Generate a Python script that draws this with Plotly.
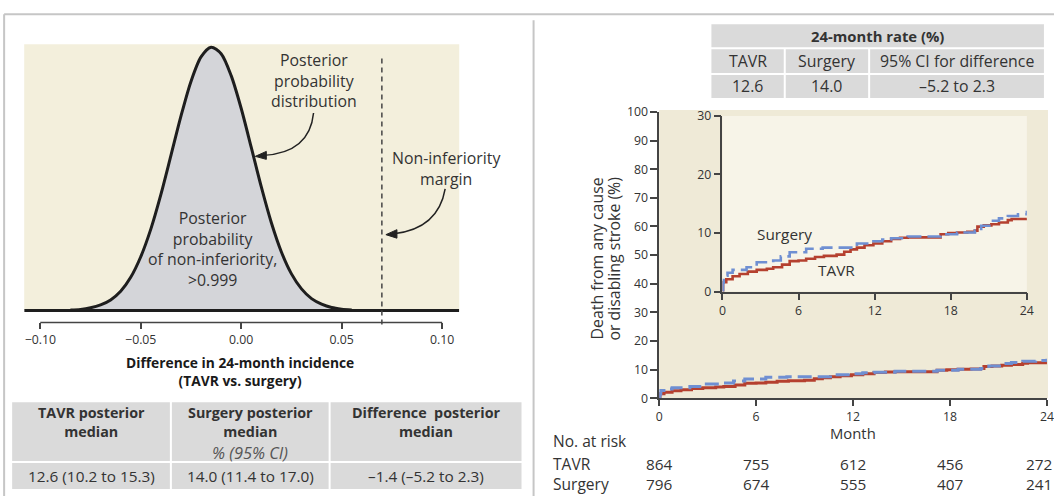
import plotly.graph_objects as go

# ---------------- data ----------------
# posterior distribution of the difference (relative height)
diff_x = [-0.085, -0.080, -0.075, -0.070, -0.065, -0.060, -0.055, -0.050, -0.045, -0.040,
          -0.035, -0.030, -0.025, -0.020, -0.015, -0.010, -0.005, 0.000, 0.005, 0.010,
          0.015, 0.020, 0.025, 0.030, 0.035, 0.040, 0.045, 0.050, 0.055]
diff_density = [0.002, 0.004, 0.010, 0.021, 0.040, 0.073, 0.126, 0.204, 0.309, 0.440,
                0.588, 0.738, 0.870, 0.963, 1.000, 0.975, 0.892, 0.767, 0.619, 0.469,
                0.333, 0.222, 0.139, 0.082, 0.045, 0.024, 0.011, 0.005, 0.002]
diff_ticks = [-0.10, -0.05, 0.00, 0.05, 0.10]
diff_ticklabels = ["\u22120.10", "\u22120.05", "0.00", "0.05", "0.10"]
noninferiority_margin = 0.07

# Kaplan-Meier style cumulative incidence (%)
tavr_month = [0, 0.05, 0.3, 0.8, 1.35, 2.0, 2.7, 3.5, 4.0, 4.7, 5.3, 6.0, 6.6, 7.3, 8.0, 9.0,
              9.6, 10.1, 10.6, 11.2, 11.9, 12.6, 13.3, 14.0, 14.6, 16.7, 17.2, 17.8, 18.5,
              19.3, 19.9, 20.1, 20.6, 21.2, 21.8, 22.5, 22.8, 24.0]
tavr_value = [0, 1.6, 2.1, 2.6, 3.0, 3.4, 3.7, 3.9, 4.15, 4.6, 5.2, 5.3, 5.6, 5.9, 6.1, 6.3,
              6.8, 7.2, 7.5, 7.9, 8.2, 8.6, 9.0, 9.2, 9.25, 9.25, 9.8, 10.0, 10.1,
              10.2, 10.4, 11.1, 11.3, 11.5, 11.8, 12.2, 12.4, 12.5]
surg_month = [0, 0.05, 0.1, 0.4, 0.8, 1.9, 2.7, 4.0, 4.6, 5.3, 6.6, 7.9, 9.3, 10.6, 11.9,
              12.6, 13.3, 14.6, 15.9, 17.2, 18.5, 19.9, 20.4, 21.2, 21.8, 22.5, 23.3, 24.0]
surg_value = [0, 1.5, 2.7, 3.2, 3.7, 4.15, 5.0, 5.3, 6.0, 6.7, 7.3, 7.5, 7.5, 8.2, 8.6,
              8.9, 9.1, 9.4, 9.4, 9.8, 10.1, 10.4, 11.25, 12.1, 12.5, 12.9, 13.2, 13.8]
month_ticks = [0, 6, 12, 18, 24]
main_yticks = [0, 10, 20, 30, 40, 50, 60, 70, 80, 90, 100]
inset_yticks = [0, 10, 20, 30]

risk_groups = ["TAVR", "Surgery"]
risk_tavr = [864, 755, 612, 456, 272]
risk_surg = [796, 674, 555, 407, 241]

rate_header = ["TAVR", "Surgery", "95% CI for difference"]
rate_values = ["12.6", "14.0", "\u20135.2 to 2.3"]

post_header = ["TAVR posterior<br>median", "Surgery posterior<br>median",
               "Difference  posterior<br>median"]
post_unit = "% (95% CI)"
post_values = ["12.6 (10.2 to 15.3)", "14.0 (11.4 to 17.0)", "\u20131.4 (\u20135.2 to 2.3)"]

# ---------------- helpers ----------------
# the page keeps the default 8px body margin and is photographed slightly
# scaled; positions below are given in photo pixels and converted here
OFF = 8
SX, SY = 1054 / 1070, 496 / 512
W, H = 1062, 504
FS = 1 / 0.977
FONT = "Open Sans"
TXT = "#333333"
AX = "#444444"
RED = "#b5402f"
BLUE = "#6f8fd2"


def px(x):
    return (x / SX - OFF) / W


def py(y):
    return 1 - (y / SY - OFF) / H


fig = go.Figure()

# left: posterior distribution
fig.add_trace(go.Scatter(x=diff_x, y=diff_density, mode="lines",
                         line=dict(color="#1e1e1e", width=3, shape="spline", smoothing=0.8),
                         fill="tozeroy", fillcolor="#d4d5d9",
                         xaxis="x", yaxis="y", hoverinfo="skip"))

# right main + inset
for xa, ya, w in (("x2", "y2", 3), ("x3", "y3", 2.6)):
    fig.add_trace(go.Scatter(x=tavr_month, y=tavr_value, mode="lines",
                             line=dict(color=RED, width=w, shape="hv"),
                             xaxis=xa, yaxis=ya, hoverinfo="skip", cliponaxis=False))
    fig.add_trace(go.Scatter(x=surg_month, y=surg_value, mode="lines",
                             line=dict(color=BLUE, width=w, shape="hv", dash="14px,6px"),
                             xaxis=xa, yaxis=ya, hoverinfo="skip", cliponaxis=False))

shapes = []
# backgrounds
shapes.append(dict(type="rect", xref="paper", yref="paper", x0=px(28), x1=px(461),
                   y0=py(310), y1=py(43), fillcolor="#f3efdc", line=dict(width=0), layer="below"))
shapes.append(dict(type="rect", xref="paper", yref="paper", x0=px(660), x1=px(1047),
                   y0=py(398), y1=py(109), fillcolor="#efead7", line=dict(width=0), layer="below"))
shapes.append(dict(type="rect", xref="paper", yref="paper", x0=px(723), x1=px(1026),
                   y0=py(291), y1=py(115), fillcolor="#f7f4e8", line=dict(width=0), layer="below"))
# frame lines
shapes.append(dict(type="line", xref="paper", yref="paper", x0=px(8), x1=px(1054), y0=py(13), y1=py(13),
                   line=dict(color="#c6c6c6", width=2)))
shapes.append(dict(type="line", xref="paper", yref="paper", x0=px(8), x1=px(8), y0=py(13), y1=py(496),
                   line=dict(color="#c6c6c6", width=2)))
shapes.append(dict(type="line", xref="paper", yref="paper", x0=px(535), x1=px(535), y0=py(19), y1=py(496),
                   line=dict(color="#c6c6c6", width=2)))
# baseline and difference axis bracket
shapes.append(dict(type="line", xref="x", yref="y", x0=-0.108, x1=0.1085, y0=0, y1=0,
                   line=dict(color="#1e1e1e", width=3)))
shapes.append(dict(type="line", xref="x", yref="paper", x0=diff_ticks[0], x1=diff_ticks[-1],
                   y0=py(322), y1=py(322), line=dict(color=AX, width=1.5)))
# non-inferiority margin
shapes.append(dict(type="line", xref="x", yref="paper", x0=noninferiority_margin,
                   x1=noninferiority_margin, y0=py(324), y1=py(55),
                   line=dict(color="#444444", width=1.5, dash="5px,4px")))


# curved arrows
def curve(x0, y0, cx, cy, x1, y1):
    return dict(type="path", xref="paper", yref="paper",
                path=f"M {px(x0)},{py(y0)} Q {px(cx)},{py(cy)} {px(x1)},{py(y1)}",
                line=dict(color="#222222", width=1.5))


def head(tx, ty, bx1, by1, bx2, by2):
    return dict(type="path", xref="paper", yref="paper",
                path=f"M {px(tx)},{py(ty)} L {px(bx1)},{py(by1)} L {px(bx2)},{py(by2)} Z",
                fillcolor="#222222", line=dict(color="#222222", width=1))


shapes.append(curve(316, 112, 312, 152, 266, 154.5))
shapes.append(head(258, 155.5, 269, 150.5, 269, 158.5))
shapes.append(curve(447, 188, 440, 228, 396, 233))
shapes.append(head(388, 234, 399, 229, 399, 237.5))


# tables
def cell(x0, x1, y0, y1):
    return dict(type="rect", xref="paper", yref="paper", x0=px(x0), x1=px(x1),
                y0=py(y1), y1=py(y0), fillcolor="#dadada", line=dict(width=0), layer="below")


# top right table
shapes.append(cell(712, 1043, 23, 46))
rate_cols = [(712, 784), (786, 868), (870, 1043)]
for (a, b) in rate_cols:
    shapes.append(cell(a, b, 48, 72))
    shapes.append(cell(a, b, 74, 97))
# left bottom table
post_cols = [(16, 173), (175, 331), (333, 523)]
for (a, b) in post_cols:
    shapes.append(cell(a, b, 402, 461))
    shapes.append(cell(a, b, 463, 489))

ann = []


def text(x, y, s, size=15, color=TXT, bold=False, italic=False, xanchor="center", angle=0,
         xref="paper", xshift=0):
    if bold:
        s = f"<b>{s}</b>"
    if italic:
        s = f"<i>{s}</i>"
    ann.append(dict(x=px(x) if xref == "paper" else x, y=py(y), xref=xref, yref="paper",
                    text=s, showarrow=False, xanchor=xanchor, yanchor="middle", xshift=xshift,
                    font=dict(family=FONT, size=size * FS, color=color), textangle=angle))


# left panel annotations
text(316, 79, "Posterior<br>probability<br>distribution", 15.5)
text(448, 168, "Non-inferiority<br>margin", 15.5)
text(215, 248, "Posterior<br>probability<br>of non-inferiority,<br>&gt;0.999", 15.5)
text(243, 371, "<b>Difference in 24-month incidence<br>(TAVR vs. surgery)</b>", 13.5,
     color="#1a1a1a")

# left table
centers = [(a + b) / 2 for a, b in post_cols]
for c, hdr in zip(centers, post_header):
    text(c, 422, hdr, 14, bold=True)
text(centers[1], 452.5, post_unit, 16, color="#555555", italic=True)
for c, v in zip(centers, post_values):
    text(c, 476, v, 15)

# top right table
text(877, 35, "24-month rate (%)", 14.5, bold=True)
rc = [(a + b) / 2 for a, b in rate_cols]
for c, h_ in zip(rc, rate_header):
    text(c, 60, h_, 15.5)
for c, v in zip(rc, rate_values):
    text(c, 85, v, 15.5)

# right chart labels
text(598, 258, "Death from any cause", 15.5, angle=-90)
text(615, 258, "or disabling stroke (%)", 15.5, angle=-90)
text(853, 433, "Month", 14.5)
text(785, 233, "Surgery", 15)
text(837, 269, "TAVR", 15)
text(552, 441, "No. at risk", 15.2, xanchor="left")
text(552, 464, risk_groups[0], 15.2, xanchor="left")
text(552, 484, risk_groups[1], 15.2, xanchor="left")
for m, a, b in zip(month_ticks, risk_tavr, risk_surg):
    if m == month_ticks[-1]:
        # last column sits at the page edge: keep it fully visible
        text(m, 464, str(a), 15, xref="x2", xanchor="right", xshift=7)
        text(m, 484, str(b), 15, xref="x2", xanchor="right", xshift=7)
    else:
        text(m, 464, str(a), 15, xref="x2")
        text(m, 484, str(b), 15, xref="x2")

tickfont = dict(family=FONT, size=12 * FS, color=TXT)
axis_common = dict(showgrid=False, zeroline=False, ticks="outside", tickfont=tickfont,
                   tickcolor=AX, tickwidth=1.5, fixedrange=True)

fig.update_layout(
    width=W, height=H, margin=dict(l=0, r=0, t=0, b=0),
    paper_bgcolor="white", plot_bgcolor="rgba(0,0,0,0)", showlegend=False,
    font=dict(family=FONT, color=TXT),
    xaxis=dict(domain=[px(28), px(461)], range=[-0.108, 0.1085], anchor="y",
               tickvals=diff_ticks, ticktext=diff_ticklabels, ticklen=6, showline=False,
               **axis_common),
    yaxis=dict(domain=[py(322), py(43)], range=[-0.0455, 1.0114], visible=False,
               fixedrange=True),
    xaxis2=dict(domain=[px(660), min(1.0, px(1046))], range=[0, 24], anchor="y2",
                tickvals=month_ticks, ticklen=6, showline=True, linecolor=AX, linewidth=1.5,
                **axis_common),
    yaxis2=dict(domain=[py(398), py(111)], range=[0, 100], anchor="x2",
                tickvals=main_yticks, ticklen=7, showline=True, linecolor=AX, linewidth=1.5,
                **axis_common),
    xaxis3=dict(domain=[px(723), px(1026)], range=[0, 24], anchor="y3",
                tickvals=month_ticks, ticklen=7, showline=True, linecolor=AX, linewidth=1.5,
                **axis_common),
    yaxis3=dict(domain=[py(291), py(115)], range=[0, 30], anchor="x3",
                tickvals=inset_yticks, ticklen=7, showline=True, linecolor=AX, linewidth=1.5,
                **axis_common),
    shapes=shapes, annotations=ann,
)

fig.write_html("out.html", config={"displayModeBar": False})
